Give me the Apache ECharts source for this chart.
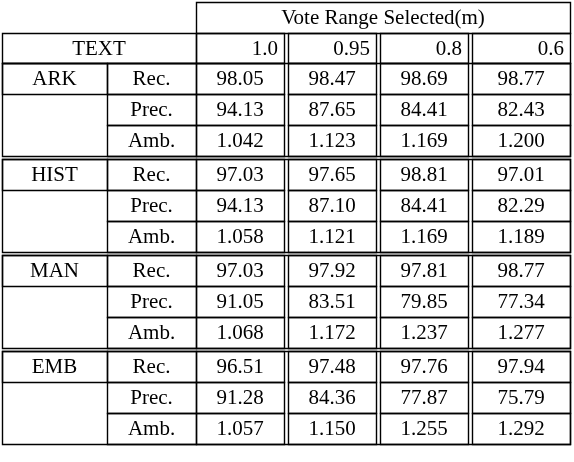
<!DOCTYPE html>
<html><head><meta charset="utf-8">
<script src="https://cdn.jsdelivr.net/npm/echarts@6/dist/echarts.min.js"></script>
<style>html,body{margin:0;padding:0;background:#fff}#c{width:574px;height:462px}</style>
</head><body><div id="c"></div>
<script>
var title = 'Vote Range Selected(m)';
var corner = 'TEXT';
var ranges = ['1.0', '0.95', '0.8', '0.6'];
var groups = ['ARK', 'HIST', 'MAN', 'EMB'];
var metrics = ['Rec.', 'Prec.', 'Amb.'];
var ark = [['98.05', '98.47', '98.69', '98.77'], ['94.13', '87.65', '84.41', '82.43'], ['1.042', '1.123', '1.169', '1.200']];
var hist = [['97.03', '97.65', '98.81', '97.01'], ['94.13', '87.10', '84.41', '82.29'], ['1.058', '1.121', '1.169', '1.189']];
var man = [['97.03', '97.92', '97.81', '98.77'], ['91.05', '83.51', '79.85', '77.34'], ['1.068', '1.172', '1.237', '1.277']];
var emb = [['96.51', '97.48', '97.76', '97.94'], ['91.28', '84.36', '77.87', '75.79'], ['1.057', '1.150', '1.255', '1.292']];
var tables = [ark, hist, man, emb];

// layout (pixel units of the value axes)
var colX = [2, 107, 196, 286, 378, 470, 570];
var rowH = 31, groupTop = [63, 159, 255, 351];

var cells = [];
function cell(x0, x1, y0, y1, text, box, align) {
  cells.push([x0, x1, y0, y1, text, box ? 1 : 0, align || 'center']);
}
cell(colX[2], colX[6], 2, 33, title, 1);
cell(colX[0], colX[2], 33, 63, corner, 1);
ranges.forEach(function (r, j) {
  cell(colX[2 + j] + (j ? 2 : 0), colX[3 + j] - (j < 3 ? 2 : 0), 33, 63, r, 1, 'right');
});
groups.forEach(function (g, gi) {
  var top = groupTop[gi];
  cell(colX[0], colX[6], top, top + rowH * 3, '', 1);
  cell(colX[0], colX[1], top, top + rowH, g, 1);
  metrics.forEach(function (m, mi) {
    var y0 = top + mi * rowH, y1 = y0 + rowH;
    cell(colX[1], colX[2], y0, y1, m, 1);
    tables[gi][mi].forEach(function (v, j) {
      cell(colX[2 + j] + (j ? 2 : 0), colX[3 + j] - (j < 3 ? 2 : 0), y0, y1, v, 1);
    });
  });
});

var chart = echarts.init(document.getElementById('c'));
chart.setOption({
  animation: false,
  grid: {left: 0, right: 0, top: 0, bottom: 0},
  xAxis: {type: 'value', min: 0, max: 574, show: false},
  yAxis: {type: 'value', min: 0, max: 462, inverse: true, show: false},
  series: [{
    type: 'custom',
    data: cells,
    renderItem: function (params, api) {
      var p0 = api.coord([api.value(0), api.value(2)]);
      var p1 = api.coord([api.value(1), api.value(3)]);
      var txt = cells[params.dataIndex][4];
      var align = cells[params.dataIndex][6];
      var tx = align === 'right' ? p1[0] - 6 : (p0[0] + p1[0]) / 2;
      return {
        type: 'group',
        children: [{
          type: 'rect',
          shape: {x: p0[0] + 0.5, y: p0[1] + 0.5, width: p1[0] - p0[0], height: p1[1] - p0[1]},
          style: {fill: 'rgba(0,0,0,0)', stroke: cells[params.dataIndex][5] ? '#000' : 'none', lineWidth: 1.4}
        }, {
          type: 'text',
          style: {
            x: tx, y: (p0[1] + p1[1]) / 2 + 1, text: txt,
            align: align, verticalAlign: 'middle',
            font: '21px "Liberation Serif", "DejaVu Serif", serif', fill: '#000'
          }
        }]
      };
    }
  }]
});
</script></body></html>
